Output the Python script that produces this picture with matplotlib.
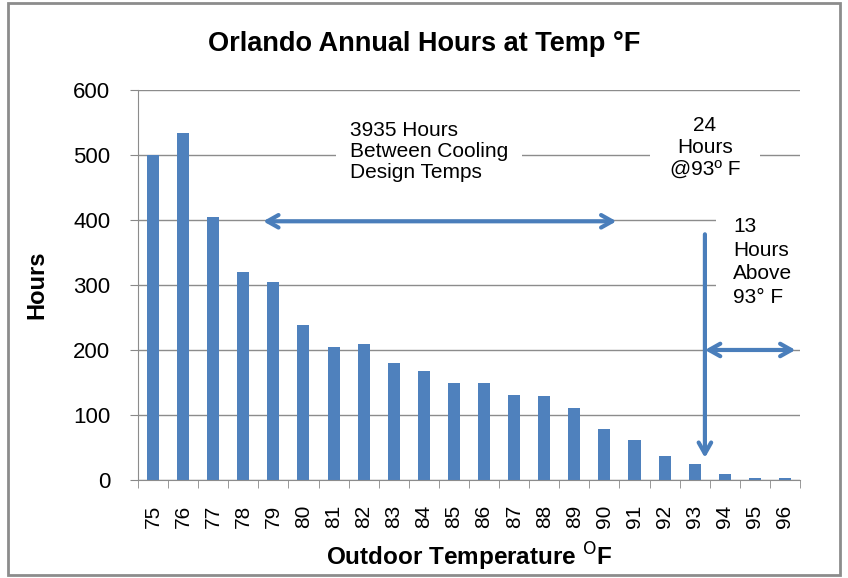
import matplotlib.pyplot as plt
from matplotlib.patches import Rectangle

plt.rcParams['font.family'] = ['Liberation Sans', 'DejaVu Sans']

temps = [str(t) for t in range(75, 97)]
hours = [500, 534, 404, 320, 304, 239, 204, 209, 180, 168, 149, 149,
         131, 129, 111, 78, 62, 37, 25, 9, 3, 3]

bar_color = '#4F81BD'
arrow_color = '#4A7EBB'

fig = plt.figure(figsize=(8.48, 5.78), dpi=100)
ax = fig.add_axes([0.1627, 0.1696, 0.7807, 0.6747])

x = range(len(temps))
ax.bar(x, hours, width=0.4, color=bar_color, zorder=2)

ax.set_xlim(-0.5, len(temps) - 0.5)
ax.set_ylim(0, 600)
ax.set_yticks(range(0, 601, 100))
ax.set_xticks(list(x))
ax.set_xticklabels(temps, rotation=90, fontsize=15)
ax.tick_params(axis='y', labelsize=16, length=6, color='#888888', direction='out', pad=14)
ax.tick_params(axis='x', length=0, pad=18)
# category boundary ticks
ax.set_xticks([i - 0.5 for i in range(len(temps) + 1)], minor=True)
ax.tick_params(axis='x', which='minor', length=6, color='#888888', direction='out')
ax.grid(axis='y', color='#8c8c8c', lw=1, zorder=0)
for s in ['top', 'right']:
    ax.spines[s].set_visible(False)
for s in ['left', 'bottom']:
    ax.spines[s].set_color('#8c8c8c')

ax.set_ylabel('Hours', fontsize=17, fontweight='bold', labelpad=18)
ax.set_xlabel('Outdoor Temperature $^{\\mathrm{O}}$F', fontsize=17.5, fontweight='bold', labelpad=9)
fig.text(0.5, 0.924, 'Orlando Annual Hours at Temp °F', ha='center', va='center',
         fontsize=19.5, fontweight='bold')

# annotations
ax.text(6.55, 505, '3935 Hours\nBetween Cooling\nDesign Temps', ha='left', va='center',
        fontsize=15, linespacing=1.15, zorder=3,
        bbox=dict(facecolor='white', edgecolor='none', pad=10))
ax.text(18.34, 512, '24\nHours\n@93º F', ha='center', va='center',
        fontsize=15, linespacing=1.2, zorder=3,
        bbox=dict(facecolor='white', edgecolor='none', pad=14))
ax.text(19.27, 335, '13\nHours\nAbove\n93° F', ha='left', va='center',
        fontsize=15, linespacing=1.3, zorder=3,
        bbox=dict(facecolor='white', edgecolor='none', pad=12))

arrow = dict(arrowstyle='<->,head_length=0.8,head_width=0.45', color=arrow_color, lw=3,
             shrinkA=0, shrinkB=0)
ax.annotate('', xy=(3.66, 398), xytext=(15.4, 398), arrowprops=arrow, zorder=4)
ax.annotate('', xy=(18.34, 200), xytext=(21.35, 200), arrowprops=arrow, zorder=4)
ax.annotate('', xy=(18.34, 34), xytext=(18.34, 378),
            arrowprops=dict(arrowstyle='->,head_length=0.8,head_width=0.45',
                            color=arrow_color, lw=3, shrinkA=0, shrinkB=0), zorder=4)

fig.patches.append(Rectangle((0.0094, 0.005), 0.981, 0.99, transform=fig.transFigure,
                             fill=False, edgecolor='#8c8c8c', lw=2))

fig.savefig('out.png', dpi=100)
